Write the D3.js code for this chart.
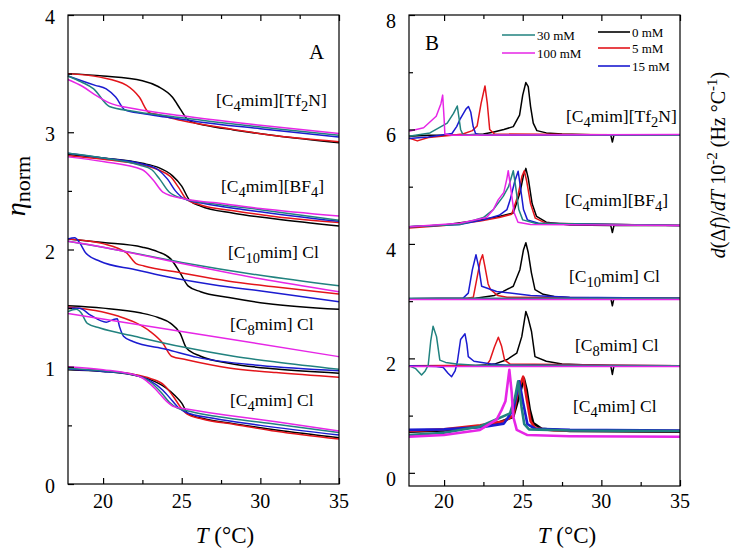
<!DOCTYPE html>
<html><head><meta charset="utf-8">
<script src="https://cdn.jsdelivr.net/npm/d3@7"></script>
<style>
body{margin:0;background:#fff;}
svg text{font-family:"Liberation Serif","Times New Roman",serif;fill:#000;}
</style>
</head><body><svg id="c" width="732" height="553"></svg>
<script>
// ---------- DATA ----------
const concentrations = ["0 mM","5 mM","15 mM","30 mM","100 mM"];
const seriesColors = ["#000000","#e3151b","#1b1bd0","#21827f","#e626e6"];
const compounds = ["[C_4mim][Tf_2N]","[C_4mim][BF_4]","[C_1_0mim] Cl","[C_8mim] Cl","[C_4mim] Cl"];
const xTicksMajor = [20,25,30,35];
const xTicksMinor = [22.5,27.5,32.5];
const yTicksA = [0,1,2,3,4];
const yTicksAMinor = [0.5,1.5,2.5,3.5];
const yTicksB = [0,2,4,6,8];
const yTicksBMinor = [1,3,5,7];

// Panel A: normalized viscosity (T, eta_norm)
const A_Tf2N_0 = [[17.77,3.50],[20,3.48],[22.5,3.44],[23.5,3.39],[24.4,3.30],[24.9,3.20],[25.3,3.12],[25.6,3.09],[26.5,3.06],[28.3,3.02],[31,2.97],[35,2.91]];
const A_Tf2N_5 = [[17.77,3.50],[19.8,3.47],[21.5,3.40],[22.3,3.30],[22.9,3.17],[23.5,3.15],[25,3.10],[28,3.03],[31,2.97],[35,2.92]];
const A_Tf2N_15 = [[17.77,3.48],[19.5,3.40],[20.2,3.37],[20.8,3.30],[21.4,3.19],[22.5,3.16],[24,3.13],[26,3.09],[30,3.03],[35,2.96]];
const A_Tf2N_30 = [[17.77,3.48],[18.6,3.43],[19.4,3.37],[20.4,3.22],[21.9,3.18],[24,3.14],[27,3.09],[31,3.03],[35,2.975]];
const A_Tf2N_100 = [[17.77,3.45],[18.7,3.39],[19.6,3.31],[20.4,3.25],[22,3.20],[25,3.14],[30,3.06],[35,2.99]];

const A_BF4_0 = [[17.77,2.81],[20,2.78],[22.5,2.735],[23.5,2.70],[24.4,2.63],[25,2.54],[25.5,2.42],[26.2,2.37],[28.3,2.31],[31,2.26],[35,2.20]];
const A_BF4_5 = [[17.77,2.80],[20,2.77],[22.5,2.72],[23.5,2.68],[24.3,2.62],[24.8,2.53],[25.3,2.43],[26.2,2.38],[28.3,2.33],[31,2.28],[35,2.23]];
const A_BF4_15 = [[17.77,2.82],[20,2.78],[22.5,2.73],[23.5,2.68],[24.1,2.60],[24.6,2.50],[25.2,2.43],[26.5,2.39],[29,2.34],[35,2.24]];
const A_BF4_30 = [[17.77,2.82],[20,2.78],[22.3,2.72],[23.1,2.68],[23.6,2.60],[24.2,2.49],[25.2,2.43],[27,2.39],[30,2.34],[35,2.25]];
const A_BF4_100 = [[17.77,2.79],[20,2.75],[22.5,2.68],[23.2,2.59],[23.8,2.49],[25.2,2.43],[27,2.40],[30,2.35],[35,2.285]];

const A_C10_0 = [[17.77,2.09],[20,2.06],[22.5,2.02],[23.5,1.98],[24.3,1.92],[24.9,1.80],[25.4,1.69],[26.2,1.64],[28,1.59],[30.4,1.54],[35,1.49]];
const A_C10_5 = [[17.77,2.09],[20,2.05],[21.5,1.97],[22.1,1.88],[22.6,1.86],[25,1.80],[28,1.73],[31,1.68],[35,1.62]];
const A_C10_15 = [[17.77,2.09],[18.2,2.10],[18.5,2.06],[18.9,1.97],[19.8,1.90],[22,1.83],[24,1.77],[27,1.70],[30.4,1.64],[35,1.555]];
const A_C10_30 = [[17.77,2.07],[20,2.02],[25,1.89],[30,1.78],[35,1.69]];
const A_C10_100 = [[17.77,2.07],[20,2.02],[25,1.88],[30,1.75],[35,1.64]];

const A_C8_0 = [[17.77,1.52],[20,1.50],[22.35,1.46],[23.5,1.42],[24.3,1.37],[24.9,1.285],[25.3,1.16],[26.2,1.09],[28,1.03],[31,0.98],[35,0.945]];
const A_C8_5 = [[17.77,1.51],[19.5,1.48],[21,1.43],[22,1.38],[23,1.30],[23.8,1.20],[24.35,1.09],[25.3,1.06],[28,0.99],[31,0.95],[35,0.91]];
const A_C8_15 = [[17.77,1.50],[18.5,1.50],[19.2,1.44],[20.2,1.38],[20.6,1.40],[20.9,1.41],[21.05,1.34],[21.3,1.26],[21.9,1.215],[24,1.15],[26,1.08],[30,1.01],[35,0.966]];
const A_C8_30 = [[17.77,1.47],[18.3,1.49],[18.6,1.46],[19.0,1.37],[19.8,1.33],[22,1.26],[25,1.17],[28.3,1.09],[31,1.04],[35,0.978]];
const A_C8_100 = [[17.77,1.455],[26,1.28],[35,1.086]];

const A_C4_0 = [[17.77,0.975],[20,0.96],[21.9,0.93],[23,0.89],[24,0.82],[24.6,0.75],[25,0.69],[25.4,0.60],[26.3,0.56],[28.3,0.515],[31,0.46],[35,0.395]];
const A_C4_5 = [[17.77,0.98],[20,0.965],[22,0.935],[23,0.90],[23.9,0.84],[24.5,0.74],[24.9,0.66],[25.3,0.60],[26.3,0.555],[28.3,0.51],[31,0.45],[35,0.383]];
const A_C4_15 = [[17.77,0.98],[20,0.96],[22,0.93],[23,0.88],[23.8,0.80],[24.4,0.71],[24.8,0.65],[25.3,0.61],[27,0.56],[30,0.50],[35,0.418]];
const A_C4_30 = [[17.77,0.985],[20,0.965],[22,0.93],[23,0.87],[23.7,0.78],[24.2,0.70],[24.7,0.65],[25.5,0.62],[28,0.56],[31,0.51],[35,0.438]];
const A_C4_100 = [[17.77,1.0],[20,0.975],[22.35,0.915],[23.4,0.80],[24,0.71],[24.5,0.66],[25.3,0.64],[28,0.585],[31,0.53],[35,0.452]];

// Panel B: d(Δf)/dT (T, value)
const B_Tf2N_0 = [[17.77,5.88],[19,5.90],[21,5.90],[22.5,5.92],[23.1,5.95],[23.8,6.0],[24.4,6.05],[24.8,6.25],[25.0,6.6],[25.2,6.82],[25.35,6.75],[25.5,6.4],[25.67,6.11],[25.9,5.98],[26.5,5.94],[27.5,5.92],[30.6,5.90],[30.7,5.78],[30.8,5.90],[35,5.90]];
const B_Tf2N_5 = [[17.77,5.85],[18.3,5.80],[19,5.86],[20.5,5.90],[21.2,5.92],[21.8,5.98],[22.1,6.06],[22.35,6.45],[22.6,6.76],[22.75,6.45],[22.9,6.0],[23.2,5.92],[35,5.90]];
const B_Tf2N_15 = [[17.77,5.84],[19,5.87],[20.5,5.93],[20.8,6.05],[21.0,6.17],[21.4,6.36],[21.55,6.40],[21.7,6.3],[21.85,6.05],[22.0,5.93],[22.3,5.90],[35,5.90]];
const B_Tf2N_30 = [[17.77,5.88],[19.1,5.94],[20.2,6.11],[20.6,6.28],[20.84,6.41],[20.95,6.2],[21.05,6.0],[21.2,5.91],[35,5.90]];
const B_Tf2N_100 = [[17.77,5.97],[18.7,6.03],[19.5,6.23],[19.8,6.45],[19.91,6.60],[20.0,6.2],[20.05,5.92],[20.5,5.90],[35,5.91]];

const B_BF4_0 = [[17.77,4.30],[20,4.33],[22.3,4.42],[23.5,4.48],[24.4,4.54],[24.82,4.89],[25.05,5.2],[25.2,5.32],[25.35,5.15],[25.6,4.7],[25.88,4.48],[26.5,4.38],[28,4.33],[30.6,4.32],[30.7,4.20],[30.8,4.32],[35,4.32]];
const B_BF4_5 = [[17.77,4.28],[20,4.32],[22.3,4.40],[23.5,4.46],[24.3,4.52],[24.7,4.85],[24.95,5.18],[25.1,5.28],[25.25,5.1],[25.5,4.7],[25.8,4.45],[26.5,4.36],[35,4.32]];
const B_BF4_15 = [[17.77,4.30],[21,4.34],[22.5,4.42],[23.5,4.50],[24.0,4.6],[24.2,4.77],[24.5,5.1],[24.71,5.27],[24.85,5.0],[25.05,4.6],[25.3,4.42],[26,4.36],[35,4.32]];
const B_BF4_30 = [[17.77,4.30],[21,4.34],[22.5,4.46],[23.13,4.60],[23.76,4.83],[24.1,5.0],[24.4,5.28],[24.55,5.0],[24.75,4.6],[25.0,4.42],[25.8,4.36],[35,4.32]];
const B_BF4_100 = [[17.77,4.30],[21,4.36],[22.7,4.46],[23.13,4.60],[23.44,4.77],[23.8,4.9],[24.0,5.15],[24.08,5.28],[24.25,4.95],[24.45,4.55],[24.7,4.38],[25.5,4.34],[35,4.32]];

const B_C10_0 = [[17.77,3.04],[22,3.05],[23.2,3.10],[23.76,3.17],[24.4,3.26],[24.82,3.55],[25.05,3.9],[25.2,4.02],[25.35,3.85],[25.55,3.5],[25.78,3.2],[26.3,3.12],[27,3.08],[28,3.06],[30.6,3.05],[30.7,2.92],[30.8,3.05],[35,3.05]];
const B_C10_5 = [[17.77,3.04],[21.5,3.05],[21.86,3.07],[22.07,3.37],[22.3,3.7],[22.45,3.81],[22.6,3.6],[22.8,3.3],[22.96,3.2],[23.4,3.1],[24,3.07],[35,3.05]];
const B_C10_15 = [[17.77,3.04],[21.2,3.05],[21.54,3.14],[21.8,3.55],[22.03,3.81],[22.2,3.6],[22.39,3.26],[23.34,3.17],[25.5,3.10],[28,3.07],[35,3.05]];
const B_C10_30 = [[17.77,3.05],[35,3.05]];
const B_C10_100 = [[17.77,3.03],[35,3.03]];

const B_C8_0 = [[17.77,1.87],[22,1.87],[23.2,1.90],[23.98,1.975],[24.62,2.09],[24.94,2.38],[25.2,2.82],[25.35,2.7],[25.56,2.47],[25.78,2.03],[26.5,1.95],[27.5,1.90],[30.6,1.87],[30.7,1.72],[30.8,1.87],[35,1.87]];
const B_C8_5 = [[17.77,1.87],[22.7,1.88],[22.92,1.97],[23.2,2.2],[23.45,2.37],[23.66,2.21],[23.85,1.97],[24.2,1.90],[35,1.87]];
const B_C8_15 = [[17.77,1.87],[19.5,1.86],[19.95,1.84],[20.25,1.74],[20.48,1.68],[20.7,1.78],[20.85,1.95],[21.05,2.33],[21.33,2.43],[21.45,2.25],[21.54,2.03],[21.9,1.95],[23,1.90],[24,1.88],[35,1.87]];
const B_C8_30 = [[17.77,1.87],[18.2,1.82],[18.57,1.71],[18.8,1.78],[18.99,1.88],[19.15,2.3],[19.3,2.56],[19.52,2.38],[19.73,1.97],[20.1,1.93],[20.8,1.90],[22,1.88],[35,1.87]];
const B_C8_100 = [[17.77,1.86],[35,1.86]];

const B_C4_0 = [[17.77,0.72],[20,0.74],[22.28,0.81],[23.5,0.88],[24.4,0.98],[24.82,1.39],[25.07,1.65],[25.25,1.45],[25.45,1.1],[25.67,0.87],[26.2,0.77],[28,0.73],[35,0.72]];
const B_C4_5 = [[17.77,0.73],[20,0.76],[22.3,0.83],[23.8,0.90],[24.4,1.0],[24.71,1.45],[25.03,1.68],[25.25,1.3],[25.5,0.9],[25.8,0.78],[27,0.74],[35,0.73]];
const B_C4_15 = [[17.77,0.75],[20,0.76],[22.5,0.80],[23.8,0.86],[24.4,1.10],[24.78,1.60],[25.03,1.22],[25.3,0.85],[25.8,0.77],[28,0.75],[35,0.74]];
const B_C4_30 = [[17.77,0.66],[20,0.70],[22.28,0.81],[24.19,1.04],[24.5,1.3],[24.71,1.60],[24.92,1.16],[25.1,0.85],[25.4,0.76],[28,0.74],[35,0.73]];
const B_C4_100 = [[17.77,0.63],[20,0.66],[22.28,0.75],[23.34,0.93],[23.66,1.10],[23.9,1.25],[24.15,1.80],[24.3,1.40],[24.4,0.98],[24.62,0.75],[25.3,0.66],[28,0.64],[35,0.63]];

const panelA = [
  [A_Tf2N_0,A_Tf2N_5,A_Tf2N_15,A_Tf2N_30,A_Tf2N_100],
  [A_BF4_0,A_BF4_5,A_BF4_15,A_BF4_30,A_BF4_100],
  [A_C10_0,A_C10_5,A_C10_15,A_C10_30,A_C10_100],
  [A_C8_0,A_C8_5,A_C8_15,A_C8_30,A_C8_100],
  [A_C4_0,A_C4_5,A_C4_15,A_C4_30,A_C4_100]];
const panelB = [
  [B_Tf2N_0,B_Tf2N_5,B_Tf2N_15,B_Tf2N_30,B_Tf2N_100],
  [B_BF4_0,B_BF4_5,B_BF4_15,B_BF4_30,B_BF4_100],
  [B_C10_0,B_C10_5,B_C10_15,B_C10_30,B_C10_100],
  [B_C8_0,B_C8_5,B_C8_15,B_C8_30,B_C8_100],
  [B_C4_0,B_C4_5,B_C4_15,B_C4_30,B_C4_100]];

// ---------- DRAW ----------
const svg = d3.select("#c");
svg.append("rect").attr("width",732).attr("height",553).attr("fill","#fff");

function richText(sel, str, subScale){
  const re = /(_.)|(\^\{[^}]*\})|([^_^]+)/g; let m;
  let shift = 0;
  while((m = re.exec(str))){
    if(m[1]){
      sel.append("tspan").attr("dy",(5-shift)).style("font-size",subScale).text(m[1].slice(1));
      shift = 5;
    } else if(m[2]){
      sel.append("tspan").attr("dy",(-7-shift)).style("font-size",subScale).text(m[2].slice(2,-1));
      shift = -7;
    } else {
      sel.append("tspan").attr("dy",-shift).text(m[3]);
      shift = 0;
    }
  }
}

function drawPanel(cfg){
  const g = svg.append("g");
  const x = d3.scaleLinear().domain([17.77,35]).range([cfg.left,cfg.right]);
  const y = d3.scaleLinear().domain(cfg.ydom).range([cfg.bottom,cfg.top]);
  const line = d3.line().x(d=>x(d[0])).y(d=>y(d[1])).curve(cfg.curve);
  cfg.data.forEach((grp,gi)=>{
    grp.forEach((s,si)=>{
      g.append("path").attr("d",line(s)).attr("fill","none")
        .attr("stroke",seriesColors[si]).attr("stroke-width",cfg.sw(gi))
        .attr("stroke-linejoin","round");
    });
  });
  g.append("rect").attr("x",cfg.left).attr("y",cfg.top)
    .attr("width",cfg.right-cfg.left).attr("height",cfg.bottom-cfg.top)
    .attr("fill","none").attr("stroke","#000").attr("stroke-width",1.2);
  const bottom = d3.axisBottom(x).tickValues(xTicksMajor).tickSize(-6).tickFormat("");
  const bottomMin = d3.axisBottom(x).tickValues(xTicksMinor).tickSize(-4).tickFormat("");
  const top = d3.axisTop(x).tickValues(xTicksMajor).tickSize(-6).tickFormat("");
  const topMin = d3.axisTop(x).tickValues(xTicksMinor).tickSize(-4).tickFormat("");
  const left = d3.axisLeft(y).tickValues(cfg.yt).tickSize(-6).tickFormat("");
  const leftMin = d3.axisLeft(y).tickValues(cfg.ytm).tickSize(-4).tickFormat("");
  [[bottom,`translate(0,${cfg.bottom})`],[bottomMin,`translate(0,${cfg.bottom})`],
   [top,`translate(0,${cfg.top})`],[topMin,`translate(0,${cfg.top})`],
   [left,`translate(${cfg.left},0)`],[leftMin,`translate(${cfg.left},0)`]].forEach(([ax,tr])=>{
    const a = g.append("g").attr("transform",tr).call(ax);
    a.select(".domain").remove();
    a.selectAll("line").attr("stroke","#000").attr("stroke-width",1.2);
  });
  g.selectAll(null).data(xTicksMajor).join("text")
    .attr("x",d=>x(d)).attr("y",508).attr("text-anchor","middle")
    .style("font-size","20px").text(d=>d);
  g.selectAll(null).data(cfg.yt).join("text")
    .attr("x",cfg.left-13).attr("y",d=>y(d)+cfg.ylabOff).attr("text-anchor","end")
    .style("font-size","20px").text(d=>d);
  const xt = g.append("text").attr("x",cfg.xtitleX).attr("y",543).attr("text-anchor","middle").style("font-size","23px");
  xt.append("tspan").style("font-style","italic").text("T");
  xt.append("tspan").text(" (\u00B0C)");
  compounds.forEach((c,i)=>{
    const t = g.append("text").attr("x",cfg.labels[i][0]).attr("y",cfg.labels[i][1]).style("font-size","17.5px");
    richText(t,c,"14.5px");
  });
  g.append("text").attr("x",cfg.letter[0]).attr("y",cfg.letter[1]).style("font-size","21px").text(cfg.letterText);
  return {x,y,g};
}

drawPanel({left:68,right:339,top:15,bottom:484,ydom:[0,4],data:panelA,
  curve:d3.curveMonotoneX, sw:()=>1.5, yt:yTicksA, ytm:yTicksAMinor, ylabOff:9,
  xtitleX:225,
  labels:[[216,106],[221,192],[228,258],[230,330],[230,406]],
  letter:[309,59], letterText:"A"});

drawPanel({left:409,right:680,top:15,bottom:486,ydom:[-0.23,8],data:panelB,
  curve:d3.curveLinear, sw:(gi)=> gi===4 ? 2.6 : 1.5, yt:yTicksB, ytm:yTicksBMinor, ylabOff:13,
  xtitleX:567,
  labels:[[566,122],[565,206],[569,282],[575,351],[573,412]],
  letter:[425,50], letterText:"B"});

// Y axis title A
const ya = svg.append("text").attr("transform","translate(25,186) rotate(-90)").attr("text-anchor","middle");
ya.append("tspan").style("font-size","28px").style("font-style","italic").text("\u03B7");
ya.append("tspan").attr("dy",5).style("font-size","22px").text("norm");

// Y axis title B
const yb = svg.append("text").attr("transform","translate(725,165) rotate(-90)").attr("text-anchor","middle").style("font-size","20px");
[["d","i"],["(\u0394","n"],["f","i"],[")/","n"],["dT","i"],[" 10","n"]].forEach(([s,st])=>{
  yb.append("tspan").style("font-style",st==="i"?"italic":"normal").text(s);
});
yb.append("tspan").attr("dy",-8).style("font-size","15px").text("-2");
yb.append("tspan").attr("dy",8).text(" (Hz \u00B0C");
yb.append("tspan").attr("dy",-8).style("font-size","15px").text("-1");
yb.append("tspan").attr("dy",8).text(")");

// Legend
const legendItems = [
  {i:3, x1:502, x2:535, y:35},
  {i:4, x1:502, x2:535, y:53},
  {i:0, x1:598, x2:630, y:32},
  {i:1, x1:598, x2:630, y:48},
  {i:2, x1:598, x2:630, y:66}];
legendItems.forEach(d=>{
  svg.append("line").attr("x1",d.x1).attr("x2",d.x2).attr("y1",d.y).attr("y2",d.y)
    .attr("stroke",seriesColors[d.i]).attr("stroke-width",1.6);
  svg.append("text").attr("x",d.x2+2).attr("y",d.y+4.5).style("font-size","13px").text(concentrations[d.i]);
});
</script>
</body></html>
